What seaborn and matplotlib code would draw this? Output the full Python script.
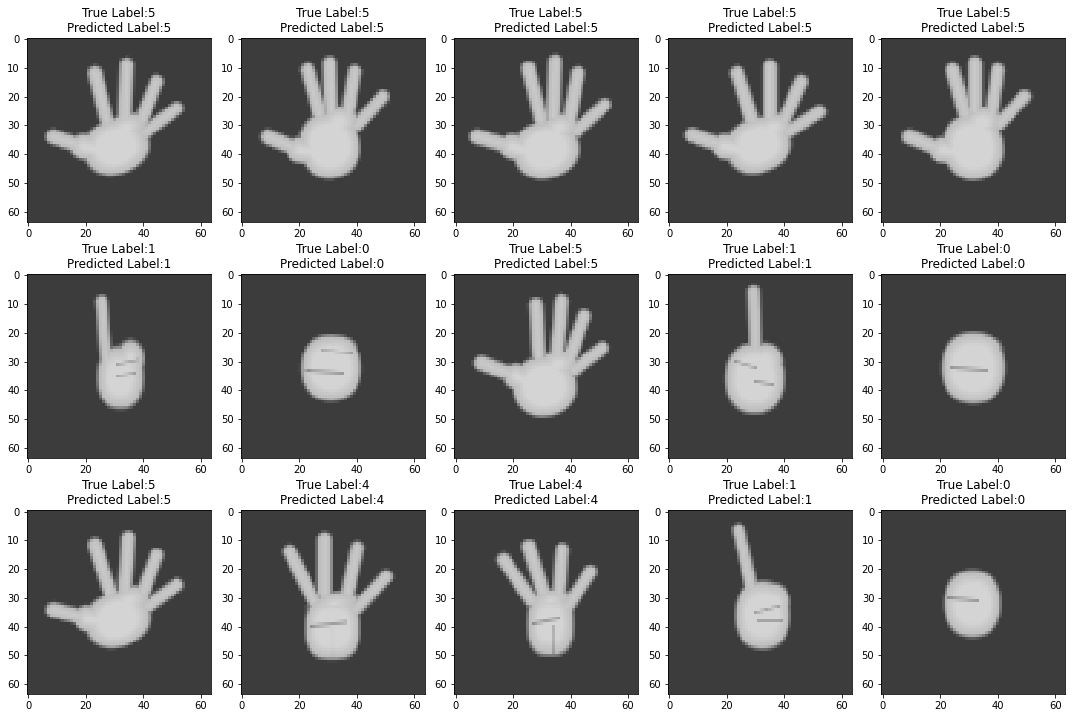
import numpy as np
import matplotlib
matplotlib.use("Agg")
import matplotlib.pyplot as plt
import seaborn as sns

true_labels = [5, 5, 5, 5, 5, 1, 0, 5, 1, 0, 5, 4, 4, 1, 0]
pred_labels = [5, 5, 5, 5, 5, 1, 0, 5, 1, 0, 5, 4, 4, 1, 0]

# palm / fist blobs per sample: (cx, cy, rx, ry, angle, roundness) in image pixels
palms = [
    [(30.5, 37.5, 11.5, 9.5, -20, 2.2), (34.0, 31.0, 7.5, 5.0, -20, 2.0)],
    [(30.5, 37.0, 10.5, 11.5, -10, 2.2), (33.5, 29.0, 7.0, 5.5, -15, 2.0)],
    [(31.5, 38.5, 11.5, 10.0, -15, 2.2), (36.0, 31.0, 7.0, 5.0, -15, 2.0)],
    [(31.0, 37.0, 11.5, 9.5, -20, 2.2), (36.0, 31.0, 7.0, 5.0, -20, 2.0)],
    [(31.5, 37.5, 10.5, 11.5, -10, 2.2), (34.5, 29.0, 7.0, 5.5, -15, 2.0)],
    [(32.0, 35.5, 8.0, 10.8, 0, 2.4), (35.5, 29.0, 4.8, 6.5, 0, 2.0)],
    [(31.0, 32.2, 10.4, 11.4, 0, 2.3), (33.0, 26.0, 7.0, 5.0, 0, 2.0)],
    [(31.0, 38.5, 11.0, 10.5, -10, 2.2), (35.5, 31.0, 7.0, 5.0, -15, 2.0)],
    [(29.8, 35.8, 10.2, 12.2, 0, 2.3), (33.5, 30.0, 6.0, 6.5, 0, 2.0)],
    [(31.5, 32.2, 11.0, 12.3, 0, 2.3), (34.0, 26.0, 7.5, 5.5, 0, 2.0)],
    [(31.0, 37.5, 11.5, 9.5, -20, 2.2), (35.0, 31.0, 7.5, 5.0, -20, 2.0)],
    [(31.5, 40.5, 9.5, 10.8, 0, 2.8), (32.0, 32.0, 9.0, 4.0, -10, 2.0)],
    [(33.0, 39.0, 8.0, 11.0, 0, 2.8), (33.0, 31.0, 7.5, 4.0, -10, 2.0)],
    [(32.5, 36.0, 9.5, 11.8, 0, 2.3), (36.5, 31.5, 5.5, 6.5, 0, 2.0)],
    [(31.2, 32.0, 9.8, 11.6, 0, 2.3), (33.0, 26.0, 6.5, 5.0, 0, 2.0)],
]

# fingers per sample: (x_tip, y_tip, x_base, y_base, radius)
fingers = [
    [(8.7, 34.0, 19.1, 37.4, 2.6), (19.1, 37.4, 27.0, 39.0, 4.5), (23.2, 11.9, 27.2, 28.0, 2.5),
     (34.2, 9.0, 33.6, 27.0, 2.5), (44.6, 14.8, 39.5, 28.0, 2.4), (51.6, 24.1, 40.5, 32.5, 2.3)],
    [(9.0, 34.0, 20.0, 38.6, 2.6), (20.0, 38.6, 28.0, 40.0, 4.5), (22.9, 10.8, 27.0, 26.0, 2.5),
     (30.5, 8.5, 31.0, 25.0, 2.5), (39.2, 11.4, 36.8, 26.0, 2.4), (49.0, 20.0, 40.0, 30.0, 2.3)],
    [(7.6, 34.0, 19.7, 37.4, 2.6), (19.7, 37.4, 28.0, 40.0, 4.5), (25.4, 10.2, 29.7, 28.0, 2.5),
     (34.7, 7.9, 34.0, 27.0, 2.5), (42.6, 11.9, 39.7, 28.0, 2.4), (51.9, 22.9, 42.0, 32.0, 2.3)],
    [(8.0, 33.4, 19.4, 37.4, 2.6), (19.4, 37.4, 27.0, 39.0, 4.5), (23.7, 11.9, 28.7, 28.0, 2.5),
     (35.1, 9.6, 35.1, 27.0, 2.5), (45.9, 14.8, 40.1, 28.0, 2.4), (52.3, 25.3, 41.0, 32.5, 2.3)],
    [(9.3, 34.0, 20.7, 38.6, 2.6), (20.7, 38.6, 29.0, 40.0, 4.5), (24.3, 10.8, 28.6, 26.0, 2.5),
     (32.1, 8.5, 32.1, 25.0, 2.5), (40.0, 10.8, 37.9, 26.0, 2.4), (49.3, 20.0, 40.5, 29.5, 2.3)],
    [(25.5, 9.0, 27.0, 30.0, 2.1)],
    [],
    [(9.0, 30.5, 21.1, 35.1, 2.6), (21.1, 35.1, 28.0, 39.0, 4.5), (28.0, 10.2, 29.0, 28.0, 2.5),
     (36.9, 9.0, 35.4, 27.0, 2.5), (44.7, 14.2, 39.7, 29.0, 2.4), (51.1, 25.3, 41.0, 33.0, 2.3)],
    [(29.4, 5.6, 30.0, 27.0, 2.1)],
    [],
    [(8.7, 34.2, 20.3, 37.1, 2.6), (20.3, 37.1, 28.0, 39.0, 4.5), (23.2, 11.6, 28.4, 28.0, 2.5),
     (34.8, 9.3, 33.6, 27.0, 2.5), (44.6, 15.1, 40.0, 28.0, 2.4), (51.6, 25.5, 41.5, 33.0, 2.3)],
    [(16.6, 13.9, 25.0, 31.0, 2.4), (28.7, 9.8, 28.7, 28.0, 2.5),
     (40.1, 12.7, 36.8, 28.0, 2.4), (50.2, 22.6, 39.5, 34.0, 2.3)],
    [(16.8, 16.8, 26.5, 31.0, 2.4), (25.5, 12.2, 30.5, 28.0, 2.5),
     (37.1, 13.3, 36.0, 28.0, 2.4), (46.9, 20.9, 39.0, 33.0, 2.3)],
    [(24.2, 6.4, 29.0, 28.0, 2.2)],
    [],
]

# darker folds inside the hand: (x0, y0, x1, y1, half width)
creases = [
    [], [], [], [], [],
    [(31.0, 31.0, 38.0, 29.5, 0.3), (31.0, 35.0, 37.0, 34.0, 0.3)],
    [(22.5, 33.0, 35.0, 34.0, 0.5), (28.0, 26.0, 38.0, 27.0, 0.2)],
    [],
    [(23.0, 30.0, 30.0, 32.0, 0.3), (30.0, 37.0, 36.0, 38.0, 0.4)],
    [(24.0, 32.0, 36.0, 33.0, 0.5)],
    [],
    [(24.0, 40.0, 36.0, 38.5, 0.5), (31.5, 41.0, 31.5, 50.0, 0.1)],
    [(27.0, 39.0, 36.0, 37.0, 0.5), (34.0, 40.0, 34.0, 49.0, 0.1)],
    [(30.0, 35.0, 38.0, 33.0, 0.3), (31.0, 38.0, 39.0, 38.0, 0.3)],
    [(23.0, 30.0, 33.0, 31.0, 0.5)],
]

yy, xx = np.mgrid[0:64, 0:64].astype(float)


def seg_dist(x0, y0, x1, y1):
    dx, dy = x1 - x0, y1 - y0
    t = np.clip(((xx - x0) * dx + (yy - y0) * dy) / (dx * dx + dy * dy + 1e-9), 0, 1)
    return np.hypot(xx - (x0 + t * dx), yy - (y0 + t * dy))


def blob_dist(cx, cy, rx, ry, ang, p):
    a = np.deg2rad(ang)
    u = (xx - cx) * np.cos(a) + (yy - cy) * np.sin(a)
    v = -(xx - cx) * np.sin(a) + (yy - cy) * np.cos(a)
    q = (np.abs(u / rx) ** p + np.abs(v / ry) ** p) ** (1.0 / p)
    return (q - 1) * min(rx, ry)


def render(palm_list, finger_list, crease_list):
    d = np.full((64, 64), 99.0)
    for b in palm_list:
        d = np.minimum(d, blob_dist(*b))
    for f in finger_list:
        d = np.minimum(d, seg_dist(*f[:4]) - f[4])
    bg = 0.235
    alpha = np.clip(0.5 - d / 1.4, 0, 1)
    skin = 0.72 + 0.11 * np.clip(-d / 4, 0, 1)
    img = bg * (1 - alpha) + skin * alpha
    for c in crease_list:
        k = np.clip(0.5 - (seg_dist(*c[:4]) - c[4]) / 0.9, 0, 1)
        img = img - 0.22 * k * alpha
    return img


fig = plt.figure(figsize=(1072 / 72, 718 / 72), dpi=72)
size = 184
for i in range(15):
    row, col = divmod(i, 5)
    left = 26.9 + col * 213.6
    top = 37.6 + row * 236.3
    ax = fig.add_axes([left / 1072, 1 - (top + size) / 718, size / 1072, size / 718])
    img = render(palms[i], fingers[i], creases[i])
    sns.heatmap(img, cmap="gray", vmin=0, vmax=1, cbar=False, ax=ax,
                xticklabels=False, yticklabels=False)
    ax.set_xticks(np.arange(0, 61, 20) + 0.5)
    ax.set_xticklabels([str(t) for t in range(0, 61, 20)], rotation=0)
    ax.set_yticks(np.arange(0, 61, 10) + 0.5)
    ax.set_yticklabels([str(t) for t in range(0, 61, 10)], rotation=0)
    ax.tick_params(length=3.5, width=0.8, labelsize=10)
    for s in ax.spines.values():
        s.set_visible(True)
        s.set_color("black")
        s.set_linewidth(0.8)
    ax.set_title("True Label:%d\nPredicted Label:%d" % (true_labels[i], pred_labels[i]), fontsize=12)

fig.savefig("out.png", dpi=72, facecolor="white")
